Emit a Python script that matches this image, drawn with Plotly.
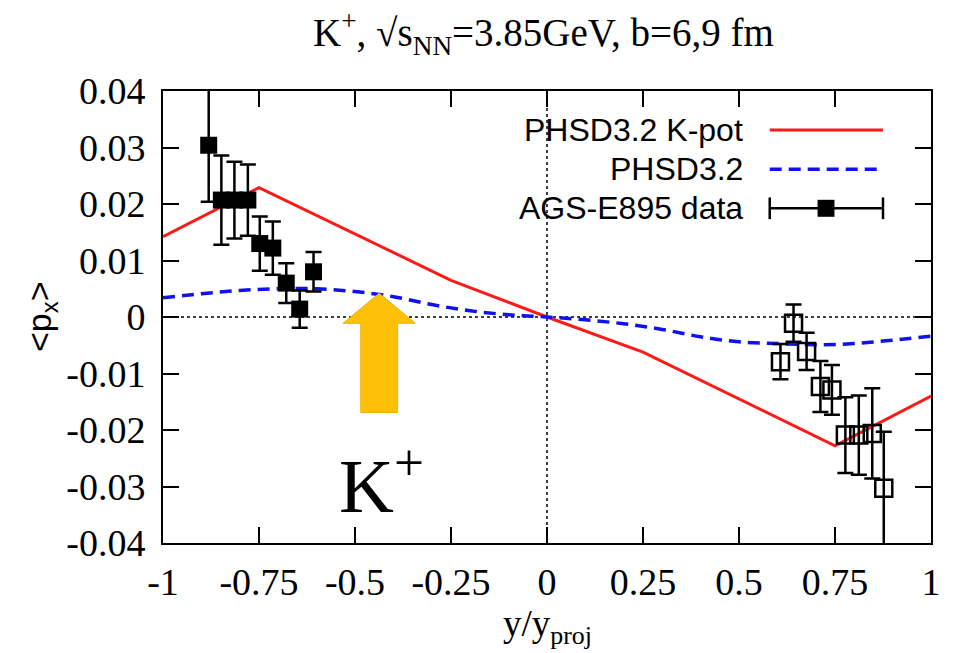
import plotly.graph_objects as go

# PHSD model curves: <p_x> of K+ versus normalised rapidity
y_model_kpot = [-1.0, -0.75, -0.25, 0.0, 0.25, 0.75, 1.0]
px_model_kpot = [0.0142, 0.0229, 0.0065, 0.0, -0.0062, -0.0228, -0.0140]

y_model_std = [-1.0, -0.9, -0.8, -0.7, -0.6, -0.5, -0.4, -0.3, -0.2, -0.1, 0.0,
               0.1, 0.2, 0.3, 0.4, 0.5, 0.6, 0.7, 0.8, 0.9, 1.0]
px_model_std = [0.0034, 0.0041, 0.0047, 0.0050, 0.0050, 0.0045, 0.0036, 0.0022, 0.0011, 0.0004, 0.0,
                -0.0005, -0.0012, -0.0022, -0.0035, -0.0044, -0.0047, -0.0049, -0.0047, -0.0041, -0.0034]

# AGS-E895 measurements (filled: backward hemisphere, open: reflected points)
y_data_filled = [-0.881, -0.848, -0.814, -0.779, -0.748, -0.714, -0.679, -0.644, -0.608]
px_data_filled = [0.0304, 0.0207, 0.0207, 0.0207, 0.0130, 0.0122, 0.0060, 0.0014, 0.0080]
err_data_filled = [0.0100, 0.0079, 0.0068, 0.0063, 0.0048, 0.0047, 0.0035, 0.0033, 0.0035]

y_data_open = [0.608, 0.642, 0.676, 0.712, 0.742, 0.777, 0.812, 0.847, 0.877]
px_data_open = [-0.0079, -0.0011, -0.0061, -0.0123, -0.0129, -0.0209, -0.0209, -0.0206, -0.0303]
err_data_open = [0.0031, 0.0033, 0.0033, 0.0045, 0.0044, 0.0067, 0.0070, 0.0080, 0.0100]

x_ticks = [-1, -0.75, -0.5, -0.25, 0, 0.25, 0.5, 0.75, 1]
x_tick_text = ["-1", "-0.75", "-0.5", "-0.25", "0", "0.25", "0.5", "0.75", "1"]
y_ticks = [0.04, 0.03, 0.02, 0.01, 0, -0.01, -0.02, -0.03, -0.04]
y_tick_text = ["0.04", "0.03", "0.02", "0.01", "0", "-0.01", "-0.02", "-0.03", "-0.04"]

legend_labels = ["PHSD3.2 K-pot", "PHSD3.2", "AGS-E895 data"]

SERIF = "Liberation Serif"
SANS = "Liberation Sans"
RED = "#ff1a1a"
BLUE = "#1010f0"

fig = go.Figure()

fig.add_trace(go.Scatter(x=y_model_kpot, y=px_model_kpot, mode="lines",
                         line=dict(color=RED, width=3), showlegend=False))
fig.add_trace(go.Scatter(x=y_model_std, y=px_model_std, mode="lines",
                         line=dict(color=BLUE, width=3.5, dash="12px,7px", shape="spline"),
                         showlegend=False))
fig.add_trace(go.Scatter(x=y_data_filled, y=px_data_filled, mode="markers",
                         marker=dict(symbol="square", size=17, color="black"),
                         error_y=dict(type="data", array=err_data_filled, color="black",
                                      thickness=2.5, width=8),
                         showlegend=False))
fig.add_trace(go.Scatter(x=y_data_open, y=px_data_open, mode="markers",
                         marker=dict(symbol="square-open", size=17, color="black",
                                     line=dict(width=2.5, color="black")),
                         error_y=dict(type="data", array=err_data_open, color="black",
                                      thickness=2.5, width=8),
                         showlegend=False))

shapes = []
# dotted zero lines
shapes.append(dict(type="line", xref="x", yref="paper", x0=0, x1=0, y0=0, y1=1,
                   line=dict(color="black", width=1.5, dash="dot"), layer="below"))
shapes.append(dict(type="line", xref="paper", yref="y", x0=0, x1=1, y0=0, y1=0,
                   line=dict(color="black", width=1.5, dash="dot"), layer="below"))

# block arrow pointing at the PHSD3.2 curve
ax_c, ax_tip, ax_base, ax_bot = -0.437, 0.0042, -0.0011, -0.0169
head_hw, shaft_hw = 0.094, 0.048
arrow_path = (f"M {ax_c} {ax_tip} L {ax_c + head_hw} {ax_base} L {ax_c + shaft_hw} {ax_base} "
              f"L {ax_c + shaft_hw} {ax_bot} L {ax_c - shaft_hw} {ax_bot} "
              f"L {ax_c - shaft_hw} {ax_base} L {ax_c - head_hw} {ax_base} Z")
shapes.append(dict(type="path", xref="x", yref="y", path=arrow_path,
                   fillcolor="#ffc107", line=dict(color="#f0b000", width=1)))

# key: text on the left, sample on the right
row_y = [0.9137, 0.8268, 0.7405]
key_x0, key_x1, key_mid = 0.790, 0.9375, 0.8633
shapes.append(dict(type="line", xref="paper", yref="paper", x0=key_x0, x1=key_x1,
                   y0=row_y[0], y1=row_y[0], line=dict(color=RED, width=3)))
shapes.append(dict(type="line", xref="paper", yref="paper", x0=key_x0, x1=key_x1,
                   y0=row_y[1], y1=row_y[1], line=dict(color=BLUE, width=3.5, dash="12px,7px")))
shapes.append(dict(type="line", xref="paper", yref="paper", x0=key_x0, x1=key_x1,
                   y0=row_y[2], y1=row_y[2], line=dict(color="black", width=2.5)))
cap_h = 0.024
for xc in (key_x0, key_x1):
    shapes.append(dict(type="line", xref="paper", yref="paper", x0=xc, x1=xc,
                       y0=row_y[2] - cap_h, y1=row_y[2] + cap_h,
                       line=dict(color="black", width=2.5)))
sq_w, sq_h = 0.011, 0.0188
shapes.append(dict(type="rect", xref="paper", yref="paper",
                   x0=key_mid - sq_w, x1=key_mid + sq_w,
                   y0=row_y[2] - sq_h, y1=row_y[2] + sq_h,
                   fillcolor="black", line=dict(color="black", width=0)))

annotations = []
for label, ry in zip(legend_labels, row_y):
    annotations.append(dict(text=label, xref="paper", yref="paper", x=0.758, y=ry,
                            xanchor="right", yanchor="middle", showarrow=False,
                            font=dict(family=SANS, size=32, color="black")))

# title
annotations.append(dict(text="K<sup>+</sup>, √s<sub>NN</sub>=3.85GeV, b=6,9 fm",
                        xref="paper", yref="paper", x=0.495, y=1.0, yshift=58,
                        xanchor="center", yanchor="middle", showarrow=False,
                        font=dict(family=SERIF, size=39, color="black")))
# axis titles
annotations.append(dict(text="y/y<sub>proj</sub>", xref="paper", yref="paper",
                        x=0.5, y=0, yshift=-83, xanchor="center", yanchor="middle",
                        showarrow=False, font=dict(family=SERIF, size=37, color="black")))
annotations.append(dict(text="<p<sub>x</sub>>", xref="paper", yref="paper",
                        x=0, xshift=-122, y=0.5, textangle=-90, xanchor="center",
                        yanchor="middle", showarrow=False,
                        font=dict(family=SANS, size=34, color="black")))
# particle label
annotations.append(dict(text="K<sup>+</sup>", xref="x", yref="y", x=-0.546, y=-0.029,
                        xanchor="left", yanchor="middle", showarrow=False,
                        font=dict(family=SERIF, size=76, color="black")))

fig.update_layout(
    width=959, height=653,
    margin=dict(l=163, r=28, t=91, b=110),
    paper_bgcolor="white", plot_bgcolor="white",
    shapes=shapes, annotations=annotations,
    showlegend=False,
)
axis_common = dict(showline=True, linecolor="black", linewidth=2, mirror="ticks",
                   ticks="inside", ticklen=16, tickwidth=1.5, tickcolor="black",
                   showgrid=False, zeroline=False,
                   tickfont=dict(family=SERIF, size=38, color="black"))
fig.update_xaxes(range=[-1, 1], tickvals=x_ticks, ticktext=x_tick_text,
                 ticklabelstandoff=4, **axis_common)
fig.update_yaxes(range=[-0.04, 0.04], tickvals=y_ticks, ticktext=y_tick_text,
                 ticklabelstandoff=8, **axis_common)

fig.write_html("out.html")
